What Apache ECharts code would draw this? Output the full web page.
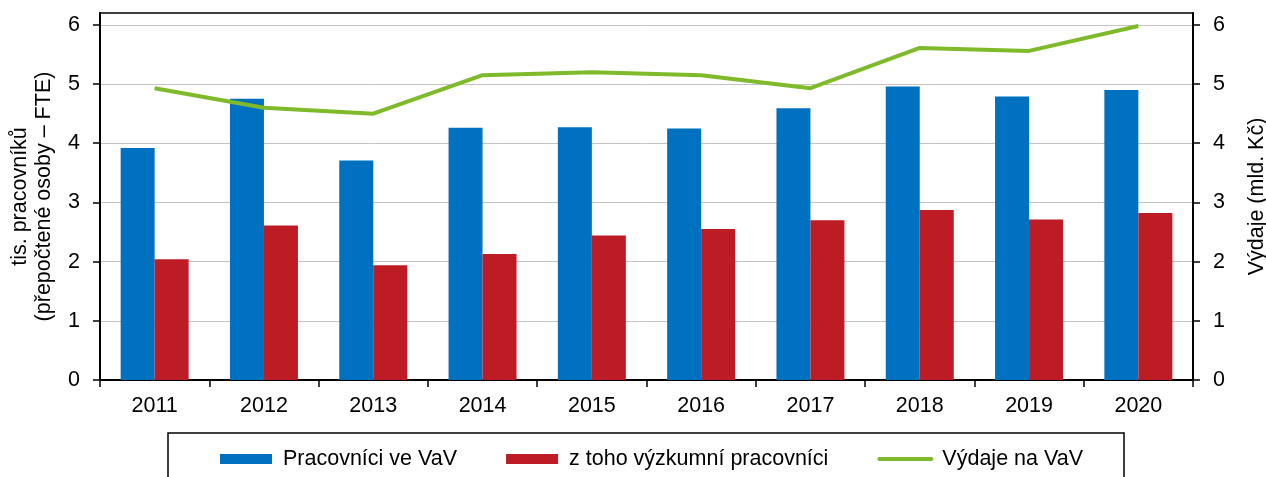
<!DOCTYPE html>
<html>
<head>
<meta charset="utf-8">
<script src="https://cdn.jsdelivr.net/npm/echarts@6/dist/echarts.min.js"></script>
<style>
html,body{margin:0;padding:0;background:#fff;}
#chart{width:1266px;height:477px;}
</style>
</head>
<body>
<div id="chart"></div>
<script>
const categories = ['2011','2012','2013','2014','2015','2016','2017','2018','2019','2020'];
const workers = [3.92, 4.75, 3.71, 4.26, 4.27, 4.25, 4.59, 4.96, 4.79, 4.90];
const researchers = [2.04, 2.61, 1.94, 2.13, 2.44, 2.55, 2.70, 2.87, 2.71, 2.82];
const expenditure = [4.93, 4.60, 4.50, 5.15, 5.20, 5.15, 4.93, 5.61, 5.56, 5.98];
const yTicks = [0, 1, 2, 3, 4, 5, 6];
const seriesNames = ['Pracovníci ve VaV', 'z toho výzkumní pracovníci', 'Výdaje na VaV'];

const FONT = "'Liberation Sans', Arial, sans-serif";
const FS = 21.5;
const BLUE = '#0070c0', RED = '#be1c24', GREEN = '#7fba2a';
const chart = echarts.init(document.getElementById('chart'), null, {renderer: 'canvas'});

function yAxisCfg(pos, name, gap) {
  return {
    type: 'value',
    position: pos,
    min: 0,
    max: 6.2,
    interval: 1,
    name: name,
    nameLocation: 'middle',
    nameRotate: 90,
    nameGap: gap,
    nameTextStyle: {fontFamily: FONT, fontSize: FS, color: '#000', lineHeight: 24},
    axisLine: {show: true, lineStyle: {color: '#000', width: 2}},
    axisTick: {show: true, inside: false, length: 7, lineStyle: {color: '#000', width: 1.5}, customValues: yTicks},
    axisLabel: {
      fontFamily: FONT, fontSize: FS, color: '#000', margin: 20,
      customValues: yTicks,
      formatter: v => (Number.isInteger(v) ? String(v) : '')
    },
    splitLine: {show: pos === 'left', lineStyle: {color: '#c4c4c4', width: 1}}
  };
}

chart.setOption({
  animation: false,
  backgroundColor: '#fff',
  textStyle: {fontFamily: FONT},
  grid: {
    left: 100, right: 73, top: 13, bottom: 97,
    show: true, borderColor: '#000', borderWidth: 1.5,
    containLabel: false, outerBoundsMode: 'none'
  },
  legend: {
    left: 168,
    top: 433,
    orient: 'horizontal',
    borderColor: '#000',
    borderWidth: 1.5,
    padding: [15, 41, 60, 52],
    itemWidth: 52,
    itemHeight: 10,
    itemGap: 49,
    textStyle: {fontFamily: FONT, fontSize: FS, color: '#000', padding: [0, 0, 0, 6]},
    data: [
      {name: seriesNames[0], icon: 'rect'},
      {name: seriesNames[1], icon: 'rect'},
      {name: seriesNames[2], itemStyle: {opacity: 0}, lineStyle: {width: 4, color: GREEN, cap: 'round'}}
    ]
  },
  xAxis: {
    type: 'category',
    data: categories,
    boundaryGap: true,
    axisLine: {show: true, lineStyle: {color: '#000', width: 2}},
    axisTick: {show: true, length: 7, lineStyle: {color: '#000', width: 1.5}},
    axisLabel: {fontFamily: FONT, fontSize: FS, color: '#000', margin: 15},
    splitLine: {show: false}
  },
  yAxis: [
    yAxisCfg('left', 'tis. pracovníků\n(přepočtené osoby – FTE)', 44),
    yAxisCfg('right', 'Výdaje (mld. Kč)', 52)
  ],
  series: [
    {
      name: seriesNames[0], type: 'bar', yAxisIndex: 0,
      data: workers, barWidth: 34, barGap: '0%',
      itemStyle: {color: BLUE}
    },
    {
      name: seriesNames[1], type: 'bar', yAxisIndex: 0,
      data: researchers, barWidth: 34, barGap: '0%',
      itemStyle: {color: RED}
    },
    {
      name: seriesNames[2], type: 'line', yAxisIndex: 1,
      data: expenditure, symbol: 'none', showSymbol: false,
      lineStyle: {color: GREEN, width: 4},
      itemStyle: {color: GREEN}
    }
  ]
});
</script>
</body>
</html>
